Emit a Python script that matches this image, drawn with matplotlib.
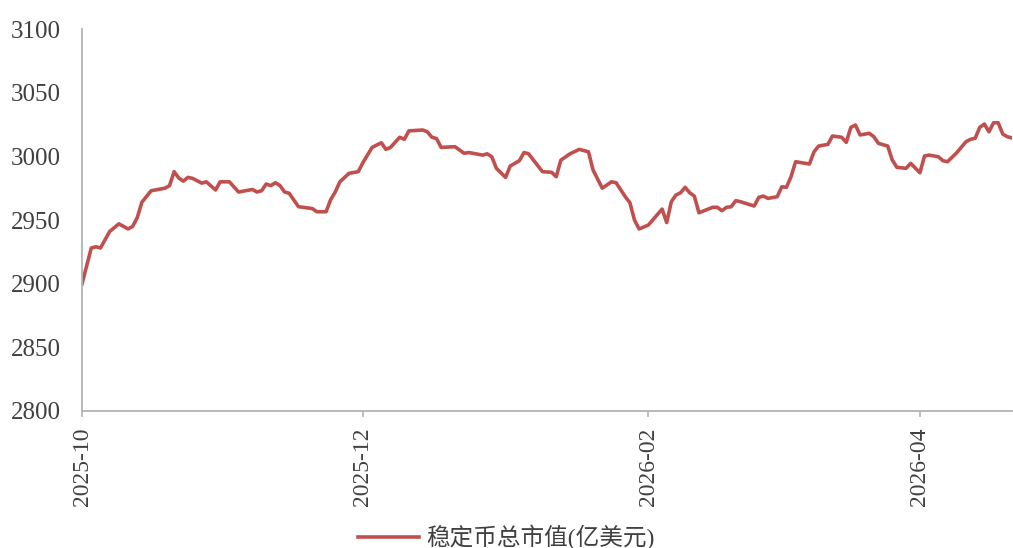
import pandas as pd
import matplotlib
matplotlib.use('Agg')
import matplotlib.pyplot as plt
import matplotlib.dates as mdates

plt.rcParams['font.family'] = ['Liberation Serif', 'Noto Sans CJK SC', 'DejaVu Sans']

# stablecoin total market cap, readings (100m USD)
dates = [
    '2025-10-01', '2025-10-03', '2025-10-04', '2025-10-05', '2025-10-07', '2025-10-09',
    '2025-10-11', '2025-10-12', '2025-10-13', '2025-10-14', '2025-10-16', '2025-10-19',
    '2025-10-20', '2025-10-21', '2025-10-22', '2025-10-23', '2025-10-24', '2025-10-25',
    '2025-10-27', '2025-10-28', '2025-10-30', '2025-10-31',
    '2025-11-02', '2025-11-04', '2025-11-07', '2025-11-08', '2025-11-09', '2025-11-10',
    '2025-11-11', '2025-11-12', '2025-11-13', '2025-11-14', '2025-11-15', '2025-11-17',
    '2025-11-18', '2025-11-20', '2025-11-21', '2025-11-23', '2025-11-24', '2025-11-25',
    '2025-11-26', '2025-11-28', '2025-11-30',
    '2025-12-01', '2025-12-03', '2025-12-05', '2025-12-06', '2025-12-07', '2025-12-09',
    '2025-12-10', '2025-12-11', '2025-12-14', '2025-12-15', '2025-12-16', '2025-12-17',
    '2025-12-18', '2025-12-21', '2025-12-23', '2025-12-24', '2025-12-27', '2025-12-28',
    '2025-12-29', '2025-12-30',
    '2026-01-01', '2026-01-02', '2026-01-04', '2026-01-05', '2026-01-06', '2026-01-09',
    '2026-01-11', '2026-01-12', '2026-01-13', '2026-01-15', '2026-01-17', '2026-01-19',
    '2026-01-20', '2026-01-22', '2026-01-24', '2026-01-25', '2026-01-27', '2026-01-28',
    '2026-01-29', '2026-01-30',
    '2026-02-01', '2026-02-04', '2026-02-05', '2026-02-06', '2026-02-07', '2026-02-08',
    '2026-02-09', '2026-02-10', '2026-02-11', '2026-02-12', '2026-02-15', '2026-02-16',
    '2026-02-17', '2026-02-18', '2026-02-19', '2026-02-20', '2026-02-21', '2026-02-24',
    '2026-02-25', '2026-02-26', '2026-02-27',
    '2026-03-01', '2026-03-02', '2026-03-03', '2026-03-04', '2026-03-05', '2026-03-08',
    '2026-03-09', '2026-03-10', '2026-03-12', '2026-03-13', '2026-03-15', '2026-03-16',
    '2026-03-17', '2026-03-18', '2026-03-19', '2026-03-21', '2026-03-22', '2026-03-23',
    '2026-03-25', '2026-03-26', '2026-03-27', '2026-03-29', '2026-03-30',
    '2026-04-01', '2026-04-02', '2026-04-03', '2026-04-05', '2026-04-06', '2026-04-07',
    '2026-04-09', '2026-04-11', '2026-04-12', '2026-04-13', '2026-04-14', '2026-04-15',
    '2026-04-16', '2026-04-17', '2026-04-18', '2026-04-19', '2026-04-20', '2026-04-21',
]
values = [
    2900, 2928, 2929, 2928, 2941, 2947,
    2943, 2945, 2952, 2964, 2973, 2975,
    2977, 2988, 2983, 2980.5, 2983.5, 2982.7,
    2979, 2980, 2973.6, 2980,
    2980, 2972, 2974, 2972, 2973, 2978.3,
    2977, 2979.3, 2977, 2972, 2971, 2960.5,
    2960, 2959, 2956.5, 2956.5, 2966, 2972,
    2980, 2986.7, 2988,
    2995, 3007, 3010.7, 3005.5, 3007, 3015,
    3013.4, 3020, 3020.7, 3019.3, 3015, 3014,
    3007, 3007.6, 3002.4, 3003, 3001, 3002,
    2999.7, 2990.6,
    2983.5, 2992.4, 2996.6, 3003, 3002, 2988,
    2987.5, 2984, 2997, 3002, 3005.5, 3003.6,
    2989.3, 2975, 2980, 2979.3, 2968.3, 2963.6,
    2950, 2943,
    2946, 2958.6, 2948, 2964.4, 2969.6, 2971.4,
    2975.7, 2971.4, 2968.8, 2955.7, 2960, 2960,
    2957.3, 2960, 2960.4, 2965.2, 2964.4, 2961,
    2967.8, 2968.8, 2967,
    2968.3, 2976.1, 2975.7, 2984, 2995.8, 2994,
    3003.6, 3008.1, 3009.4, 3016, 3015, 3011,
    3022.8, 3024.6, 3016.8, 3018.1, 3015.4, 3010.2,
    3008.1, 2997.1, 2991.4, 2990.6, 2994.5,
    2987.1, 3000.3, 3001, 2999.7, 2996.6, 2995.8,
    3002.9, 3011.5, 3013.4, 3014.2, 3022.8, 3025.4,
    3019.3, 3026.4, 3026.4, 3017.5, 3015.4, 3014.5,
]
x_ticks = ['2025-10-01', '2025-12-01', '2026-02-01', '2026-04-01']
y_ticks = [2800, 2850, 2900, 2950, 3000, 3050, 3100]
label = '稳定币总市值(亿美元)'

df = pd.DataFrame({'date': pd.to_datetime(dates), 'value': values})

fig = plt.figure(figsize=(10.13, 5.48), dpi=100)
ax = fig.add_axes([0.081, 0.25, 0.918, 0.697])

ax.plot(df['date'], df['value'], color='#C0504D', lw=2.6, label=label)

ax.set_ylim(2800, 3100)
ax.set_yticks(y_ticks)
ax.set_xlim(df['date'].iloc[0], df['date'].iloc[-1])
ax.set_xticks(pd.to_datetime(x_ticks))
ax.xaxis.set_major_formatter(mdates.DateFormatter('%Y-%m'))

for s in ['top', 'right']:
    ax.spines[s].set_visible(False)
for s in ['left', 'bottom']:
    ax.spines[s].set_color('#b3b3b3')
    ax.spines[s].set_linewidth(1.3)

ax.tick_params(axis='y', length=0, labelsize=18, pad=15, labelcolor='#404040')
ax.tick_params(axis='x', length=4, width=1.2, color='#b3b3b3', labelsize=17, pad=8,
               labelrotation=90, labelcolor='#404040')

handles, labels = ax.get_legend_handles_labels()
leg = fig.legend(handles, labels, loc='center', bbox_to_anchor=(0.5, 0.02), frameon=False,
                 fontsize=17, handlelength=2.6, handletextpad=0.3)
for t in leg.get_texts():
    t.set_color('#404040')

fig.savefig('out.png', dpi=100)
